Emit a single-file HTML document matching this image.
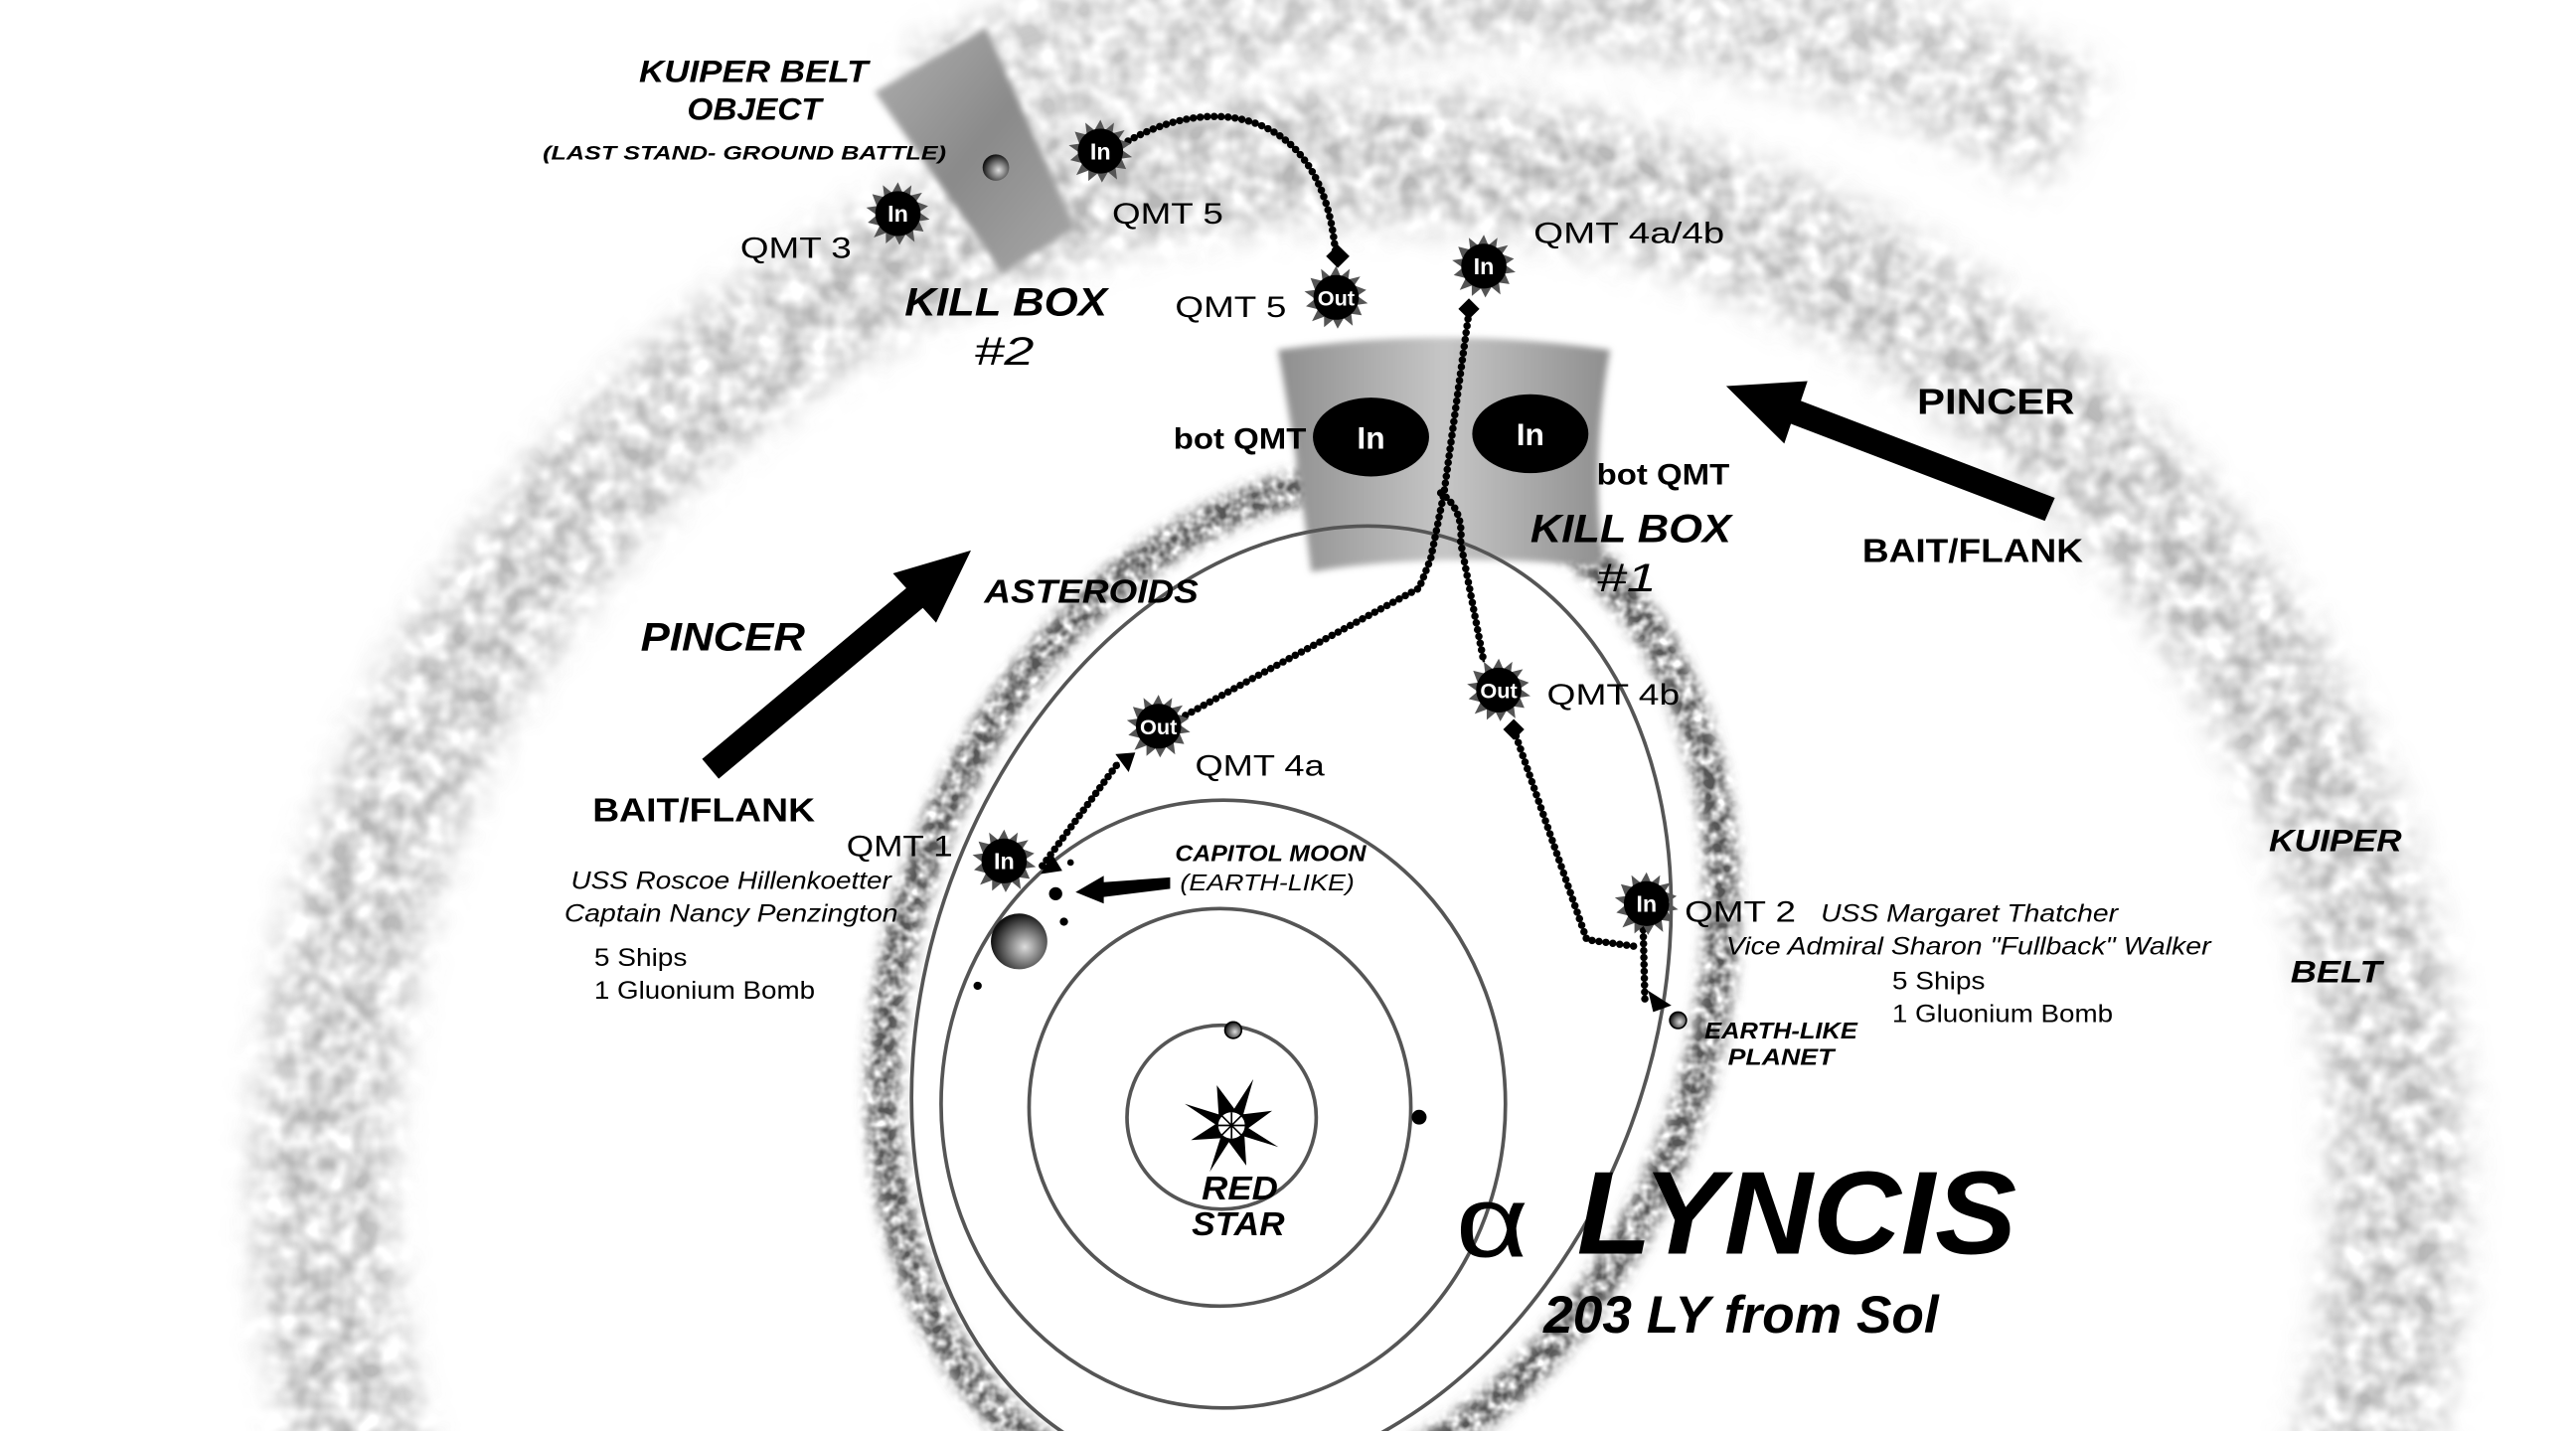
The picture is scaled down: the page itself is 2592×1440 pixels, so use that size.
<!DOCTYPE html>
<html><head><meta charset="utf-8"><style>
html,body{margin:0;padding:0;background:#fff;overflow:hidden;width:2592px;height:1440px;}
svg{display:block;}
text{font-family:"Liberation Sans",sans-serif;}
.bi{font-weight:bold;font-style:italic;}
.b{font-weight:bold;}
.i{font-style:italic;}
</style></head><body>
<svg width="2592" height="1440" viewBox="0 0 1552 871" preserveAspectRatio="none" xmlns="http://www.w3.org/2000/svg">
<defs>
<filter id="kb" x="-20%" y="-20%" width="140%" height="140%">
<feGaussianBlur in="SourceGraphic" stdDeviation="11" result="b"/>
<feTurbulence type="fractalNoise" baseFrequency="0.07" numOctaves="2" seed="3" result="n"/>
<feColorMatrix in="n" type="matrix" values="0 0 0 0 0  0 0 0 0 0  0 0 0 0 0  0 0 0 -2.0 1.5" result="na"/>
<feComposite in="b" in2="na" operator="in"/>
</filter>
<filter id="ab" x="-20%" y="-20%" width="140%" height="140%">
<feGaussianBlur in="SourceGraphic" stdDeviation="4" result="b"/>
<feTurbulence type="fractalNoise" baseFrequency="0.15" numOctaves="2" seed="7" result="n"/>
<feColorMatrix in="n" type="matrix" values="0 0 0 0 0  0 0 0 0 0  0 0 0 0 0  0 0 0 -2.0 1.6" result="na"/>
<feComposite in="b" in2="na" operator="in"/>
</filter>
<filter id="soft"><feGaussianBlur stdDeviation="2"/></filter>
<linearGradient id="kg1" x1="0" x2="1" y1="0" y2="0">
<stop offset="0" stop-color="#8e8e8e"/><stop offset="0.5" stop-color="#c6c6c6"/><stop offset="1" stop-color="#8e8e8e"/></linearGradient>
<linearGradient id="kg2" x1="0" x2="1" y1="0" y2="1">
<stop offset="0" stop-color="#b0b0b0"/><stop offset="0.5" stop-color="#8a8a8a"/><stop offset="1" stop-color="#a8a8a8"/></linearGradient>
<radialGradient id="pl" cx="0.6" cy="0.6" r="0.6"><stop offset="0" stop-color="#ddd"/><stop offset="1" stop-color="#111"/></radialGradient>
<symbol id="burst" viewBox="-22 -22 44 44" overflow="visible">
<polygon fill="#555" points="0,-21 3,-14 9,-19 8,-12 16,-14 12,-8 20,-5 14,-1 21,4 14,5 17,12 10,11 11,19 5,14 1,21 -2,15 -8,20 -8,13 -16,16 -12,8 -20,6 -14,1 -21,-4 -14,-5 -17,-13 -9,-11 -10,-19 -4,-14"/>
<circle r="15" fill="#000"/>
</symbol>
</defs>
<rect width="1552" height="871" fill="#fff"/>

<!-- Kuiper belt -->
<g filter="url(#kb)" opacity="0.75">
<circle cx="820" cy="720" r="625" fill="none" stroke="#a0a0a0" stroke-width="80"/>
<path d="M 560 70 A 740 740 0 0 1 1250 80" fill="none" stroke="#b4b4b4" stroke-width="80"/>
</g>

<!-- asteroid belt -->
<g filter="url(#ab)">
<ellipse cx="785" cy="605" rx="242" ry="322" transform="rotate(20 785 605)" fill="none" stroke="#555" stroke-width="20"/>
</g>

<!-- kill box 1 -->
<path d="M770,213 Q870,198 970,213 Q958,280 966,345 Q870,335 790,348 Q782,280 770,213 Z" fill="url(#kg1)" filter="url(#soft)"/>
<!-- kill box 2 -->
<polygon points="527,56 594,17 648,139 604,166" fill="url(#kg2)" filter="url(#soft)"/>
<circle cx="600" cy="102" r="8" fill="url(#pl)"/>

<!-- orbits -->
<g fill="none" stroke="#555" stroke-width="2.2">
<ellipse cx="736" cy="680" rx="57" ry="56"/>
<ellipse cx="735" cy="674" rx="115" ry="121"/>
<ellipse cx="737" cy="672" rx="170" ry="185"/>
<ellipse cx="778" cy="610" rx="218" ry="298" transform="rotate(20 778 610)"/>
</g>

<!-- planets -->
<circle cx="743" cy="627" r="5" fill="url(#pl)" stroke="#000" stroke-width="1"/>
<circle cx="855" cy="680" r="4.5" fill="#000"/>
<circle cx="614" cy="573" r="17" fill="url(#pl)"/>
<circle cx="636" cy="544" r="4" fill="#000"/>
<circle cx="641" cy="561" r="2.5" fill="#000"/>
<circle cx="645" cy="525" r="2" fill="#000"/>
<circle cx="589" cy="600" r="2.5" fill="#000"/>
<circle cx="1011" cy="621" r="5" fill="url(#pl)" stroke="#000" stroke-width="1"/>

<!-- star -->
<g transform="translate(742,685)">
<polygon fill="#000" points="0,-26 5,-9 22,-22 9,-4 26,0 9,5 22,22 5,9 0,26 -5,9 -22,22 -9,5 -26,0 -9,-4 -22,-22 -5,-9" transform="rotate(-20)"/>
<circle r="9" fill="#fff" stroke="#000" stroke-width="2"/>
<g stroke="#000" stroke-width="1"><line x1="-8" y1="0" x2="8" y2="0"/><line x1="0" y1="-8" x2="0" y2="8"/><line x1="-6" y1="-6" x2="6" y2="6"/><line x1="-6" y1="6" x2="6" y2="-6"/></g>
</g>

<!-- beaded connectors -->
<g fill="none" stroke="#000">
<g stroke-width="1.5">
<path d="M676,88 C730,55 800,65 805,160"/>
<path d="M885,190 L870,300 L862,340 L855,358 L760,410 L706,440"/>
<path d="M868,300 Q882,310 880,330 L894,403"/>
<path d="M912,444 L956,572 L985,576"/>
<path d="M990,566 L991,608"/>
<path d="M628,527 L674,464"/>
</g>
<g stroke-width="4.5" stroke-linecap="round" stroke-dasharray="0 4.2">
<path d="M676,88 C730,55 800,65 805,160"/>
<path d="M885,190 L870,300 L862,340 L855,358 L760,410 L706,440"/>
<path d="M868,300 Q882,310 880,330 L894,403"/>
<path d="M912,444 L956,572 L985,576"/>
<path d="M990,566 L991,608"/>
<path d="M628,527 L674,464"/>
</g>
</g>
<!-- diamond / arrow markers -->
<g fill="#000">
<rect x="-5" y="-5" width="10" height="10" transform="translate(806,156) rotate(45)"/>
<rect x="-4.5" y="-4.5" width="9" height="9" transform="translate(885,188) rotate(45)"/>
<rect x="-4.5" y="-4.5" width="9" height="9" transform="translate(912,444) rotate(45)"/>
<polygon points="993,603 1007,612 996,616"/>
<polygon points="672,459 684,458 680,470"/>
<polygon points="627,532 634,520 640,530"/>
</g>

<!-- bursts -->
<use href="#burst" x="643" y="72" width="40" height="40"/>
<use href="#burst" x="521" y="110" width="40" height="40"/>
<use href="#burst" x="785" y="161" width="40" height="40"/>
<use href="#burst" x="874" y="142" width="40" height="40"/>
<use href="#burst" x="678" y="422" width="40" height="40"/>
<use href="#burst" x="883" y="400" width="40" height="40"/>
<use href="#burst" x="585" y="504" width="40" height="40"/>
<use href="#burst" x="972" y="530" width="40" height="40"/>
<g fill="#fff" class="b" font-size="14" text-anchor="middle">
<text x="663" y="97">In</text>
<text x="541" y="135">In</text>
<text x="805" y="186" font-size="13">Out</text>
<text x="894" y="167">In</text>
<text x="698" y="447" font-size="13">Out</text>
<text x="903" y="425" font-size="13">Out</text>
<text x="605" y="529">In</text>
<text x="992" y="555">In</text>
</g>

<!-- kill box 1 ellipses -->
<ellipse cx="826" cy="266" rx="35" ry="24" fill="#000"/>
<ellipse cx="922" cy="264" rx="35" ry="24" fill="#000"/>
<text x="826" y="273" fill="#fff" font-size="19" class="b" text-anchor="middle">In</text>
<text x="922" y="271" fill="#fff" font-size="19" class="b" text-anchor="middle">In</text>

<!-- arrows -->
<polygon fill="#000" points="423,462 546,358 538,349 585,335 564,379 556,370 433,474"/>
<polygon fill="#000" points="1238,303 1085,244 1089,232 1040,235 1075,270 1079,258 1232,317"/>
<polygon fill="#000" points="705,534 665,537 665,533 648,543 665,550 665,546 705,541"/>

<!-- labels -->
<g fill="#000">
<text x="385" y="50" font-size="19" class="bi" textLength="138" lengthAdjust="spacingAndGlyphs">KUIPER BELT</text>
<text x="414" y="73" font-size="19" class="bi" textLength="81" lengthAdjust="spacingAndGlyphs">OBJECT</text>
<text x="327" y="97" font-size="12" class="bi" textLength="243" lengthAdjust="spacingAndGlyphs">(LAST STAND- GROUND BATTLE)</text>
<text x="446" y="157" font-size="18" textLength="67" lengthAdjust="spacingAndGlyphs">QMT 3</text>
<text x="670" y="136" font-size="18" textLength="67" lengthAdjust="spacingAndGlyphs">QMT 5</text>
<text x="708" y="193" font-size="18" textLength="67" lengthAdjust="spacingAndGlyphs">QMT 5</text>
<text x="924" y="148" font-size="18" textLength="115" lengthAdjust="spacingAndGlyphs">QMT 4a/4b</text>
<text x="545" y="192" font-size="24" class="bi" textLength="122" lengthAdjust="spacingAndGlyphs">KILL BOX</text>
<text x="587" y="222" font-size="24" class="i" textLength="36" lengthAdjust="spacingAndGlyphs">#2</text>
<text x="707" y="273" font-size="18" class="b" textLength="80" lengthAdjust="spacingAndGlyphs">bot QMT</text>
<text x="962" y="295" font-size="18" class="b" textLength="80" lengthAdjust="spacingAndGlyphs">bot QMT</text>
<text x="922" y="330" font-size="24" class="bi" textLength="121" lengthAdjust="spacingAndGlyphs">KILL BOX</text>
<text x="962" y="360" font-size="24" class="i" textLength="36" lengthAdjust="spacingAndGlyphs">#1</text>
<text x="1155" y="252" font-size="22" class="b" textLength="95" lengthAdjust="spacingAndGlyphs">PINCER</text>
<text x="1122" y="342" font-size="20" class="b" textLength="133" lengthAdjust="spacingAndGlyphs">BAIT/FLANK</text>
<text x="593" y="367" font-size="20" class="bi" textLength="129" lengthAdjust="spacingAndGlyphs">ASTEROIDS</text>
<text x="386" y="396" font-size="24" class="bi" textLength="99" lengthAdjust="spacingAndGlyphs">PINCER</text>
<text x="357" y="500" font-size="20" class="b" textLength="134" lengthAdjust="spacingAndGlyphs">BAIT/FLANK</text>
<text x="720" y="472" font-size="18" textLength="78" lengthAdjust="spacingAndGlyphs">QMT 4a</text>
<text x="932" y="429" font-size="18" textLength="80" lengthAdjust="spacingAndGlyphs">QMT 4b</text>
<text x="510" y="521" font-size="18" textLength="64" lengthAdjust="spacingAndGlyphs">QMT 1</text>
<text x="344" y="541" font-size="15" class="i" textLength="193" lengthAdjust="spacingAndGlyphs">USS Roscoe Hillenkoetter</text>
<text x="340" y="561" font-size="15" class="i" textLength="201" lengthAdjust="spacingAndGlyphs">Captain Nancy Penzington</text>
<text x="358" y="588" font-size="15" textLength="56" lengthAdjust="spacingAndGlyphs">5 Ships</text>
<text x="358" y="608" font-size="15" textLength="133" lengthAdjust="spacingAndGlyphs">1 Gluonium Bomb</text>
<text x="708" y="524" font-size="14" class="bi" textLength="115" lengthAdjust="spacingAndGlyphs">CAPITOL MOON</text>
<text x="711" y="542" font-size="14" class="i" textLength="105" lengthAdjust="spacingAndGlyphs">(EARTH-LIKE)</text>
<text x="1015" y="561" font-size="18" textLength="67" lengthAdjust="spacingAndGlyphs">QMT 2</text>
<text x="1097" y="561" font-size="15" class="i" textLength="179" lengthAdjust="spacingAndGlyphs">USS Margaret Thatcher</text>
<text x="1040" y="581" font-size="15" class="i" textLength="292" lengthAdjust="spacingAndGlyphs">Vice Admiral Sharon "Fullback" Walker</text>
<text x="1140" y="602" font-size="15" textLength="56" lengthAdjust="spacingAndGlyphs">5 Ships</text>
<text x="1140" y="622" font-size="15" textLength="133" lengthAdjust="spacingAndGlyphs">1 Gluonium Bomb</text>
<text x="1027" y="632" font-size="14" class="bi" textLength="92" lengthAdjust="spacingAndGlyphs">EARTH-LIKE</text>
<text x="1041" y="648" font-size="14" class="bi" textLength="64" lengthAdjust="spacingAndGlyphs">PLANET</text>
<text x="1367" y="518" font-size="19" class="bi" textLength="80" lengthAdjust="spacingAndGlyphs">KUIPER</text>
<text x="1380" y="598" font-size="19" class="bi" textLength="55" lengthAdjust="spacingAndGlyphs">BELT</text>
<text x="724" y="730" font-size="20" class="bi" textLength="46" lengthAdjust="spacingAndGlyphs">RED</text>
<text x="718" y="752" font-size="20" class="bi" textLength="56" lengthAdjust="spacingAndGlyphs">STAR</text>
<text x="877" y="765" font-size="62" textLength="44" lengthAdjust="spacingAndGlyphs">α</text>
<text x="950" y="763" font-size="72" class="bi" textLength="265" lengthAdjust="spacingAndGlyphs">LYNCIS</text>
<text x="930" y="811" font-size="32" class="bi" textLength="238" lengthAdjust="spacingAndGlyphs">203 LY from Sol</text>
</g>
</svg>
</body></html>
